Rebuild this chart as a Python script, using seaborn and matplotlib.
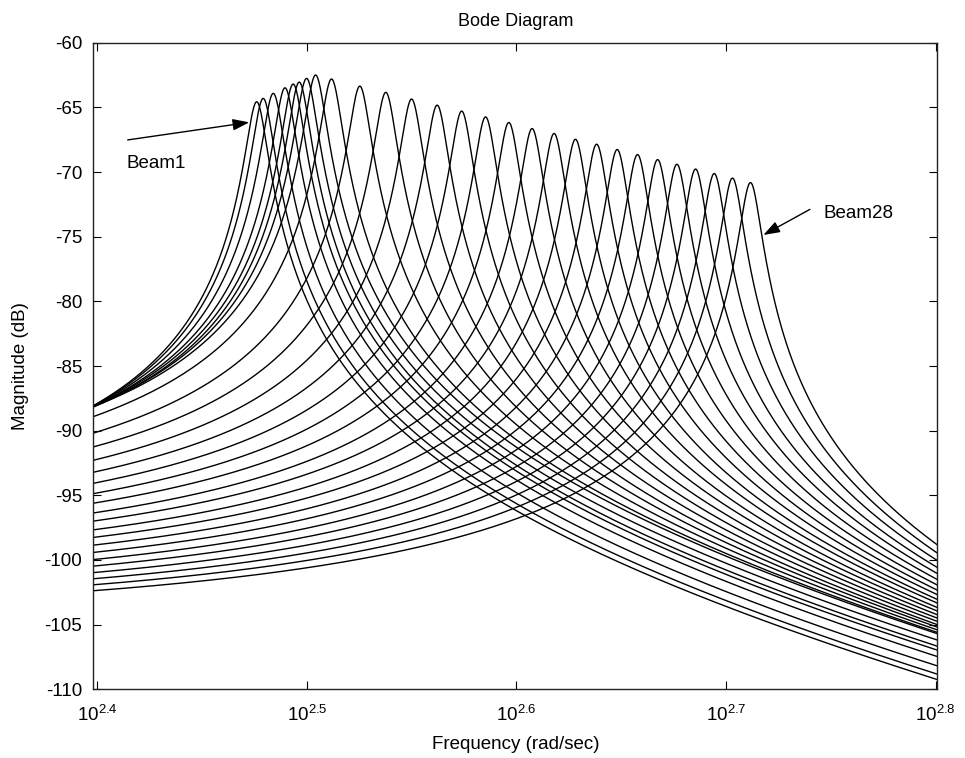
import numpy as np
import pandas as pd
import seaborn as sns
import matplotlib
matplotlib.use('Agg')
import matplotlib.pyplot as plt

# resonance peaks: log10(rad/sec) and dB, Beam1 .. Beam28
peak_logfreq = [2.4761, 2.4792, 2.4840, 2.4896, 2.4935, 2.4964, 2.4999, 2.5042,
                2.5118, 2.5253, 2.5377, 2.5500, 2.5622, 2.5739, 2.5853, 2.5964,
                2.6075, 2.6180, 2.6282, 2.6383, 2.6481, 2.6578, 2.6674, 2.6766,
                2.6855, 2.6944, 2.7031, 2.7117]
peak_db = [-64.57, -64.31, -63.92, -63.49, -63.20, -63.05, -62.76, -62.50,
           -62.81, -63.36, -63.84, -64.36, -64.83, -65.29, -65.74, -66.17,
           -66.64, -67.02, -67.47, -67.85, -68.26, -68.65, -69.04, -69.40,
           -69.77, -70.12, -70.47, -70.82]
zeta = 0.0101  # damping ratio, same for every beam

x_ticks = [2.4, 2.5, 2.6, 2.7, 2.8]
y_ticks = [-60, -65, -70, -75, -80, -85, -90, -95, -100, -105, -110]

sns.set_style('ticks')
plt.rcParams['font.family'] = ['Liberation Sans', 'DejaVu Sans']
plt.rcParams['mathtext.fontset'] = 'custom'
plt.rcParams['mathtext.rm'] = 'Liberation Sans'
plt.rcParams['mathtext.it'] = 'Liberation Sans:italic'
plt.rcParams['text.color'] = 'black'
plt.rcParams['axes.labelcolor'] = 'black'

# second order magnitude response of each beam
w = np.logspace(2.398, 2.801, 1500)
rows = []
for i, (lf, pk) in enumerate(zip(peak_logfreq, peak_db)):
    wn = 10 ** lf
    mr = 1.0 / (2 * zeta * np.sqrt(1 - zeta ** 2))
    g0 = 10 ** ((pk - 20 * np.log10(mr)) / 20)
    r = w / wn
    mag = g0 / np.sqrt((1 - r ** 2) ** 2 + (2 * zeta * r) ** 2)
    rows.append(pd.DataFrame({'w': w, 'db': 20 * np.log10(mag), 'beam': 'Beam%d' % (i + 1)}))
df = pd.concat(rows, ignore_index=True)

fig = plt.figure(figsize=(9.65, 7.58), dpi=100)
ax = fig.add_axes([0.0967, 0.0906, 0.8746, 0.8531])

sns.lineplot(data=df, x='w', y='db', units='beam', estimator=None,
             color='black', lw=1.0, ax=ax, legend=False)

ax.set_xscale('log')
ax.set_xlim(10 ** 2.3981, 10 ** 2.8008)
ax.set_ylim(-110, -60)
ax.set_xticks([10 ** t for t in x_ticks])
ax.set_xticklabels(['$10^{%.1f}$' % t for t in x_ticks])
ax.minorticks_off()
ax.set_yticks(y_ticks)
ax.set_yticklabels([str(v) for v in y_ticks])
ax.tick_params(direction='in', top=True, right=True, length=5.5, width=0.8,
               labelsize=13.5, colors='black')
ax.tick_params(axis='x', pad=11)
ax.tick_params(axis='y', pad=8)
for s in ax.spines.values():
    s.set_color('#222222')
    s.set_linewidth(1.0)

ax.set_title('Bode Diagram', fontsize=13, pad=12)
ax.set_xlabel('Frequency (rad/sec)', fontsize=13.5, labelpad=8)
ax.set_ylabel('Magnitude (dB)', fontsize=13.5, labelpad=11)

arrow = dict(arrowstyle='-|>,head_length=1.0,head_width=0.35', color='black',
             lw=1.0, shrinkA=0, shrinkB=0)
ax.annotate('', xy=(10 ** 2.4725, -66.16), xytext=(10 ** 2.4145, -67.52), arrowprops=arrow)
ax.text(10 ** 2.4140, -69.38, 'Beam1', fontsize=13.5, ha='left', va='center')
ax.annotate('', xy=(10 ** 2.7178, -74.87), xytext=(10 ** 2.7400, -72.89), arrowprops=arrow)
ax.text(10 ** 2.7464, -73.19, 'Beam28', fontsize=13.5, ha='left', va='center')

fig.savefig('out.png', dpi=100)
